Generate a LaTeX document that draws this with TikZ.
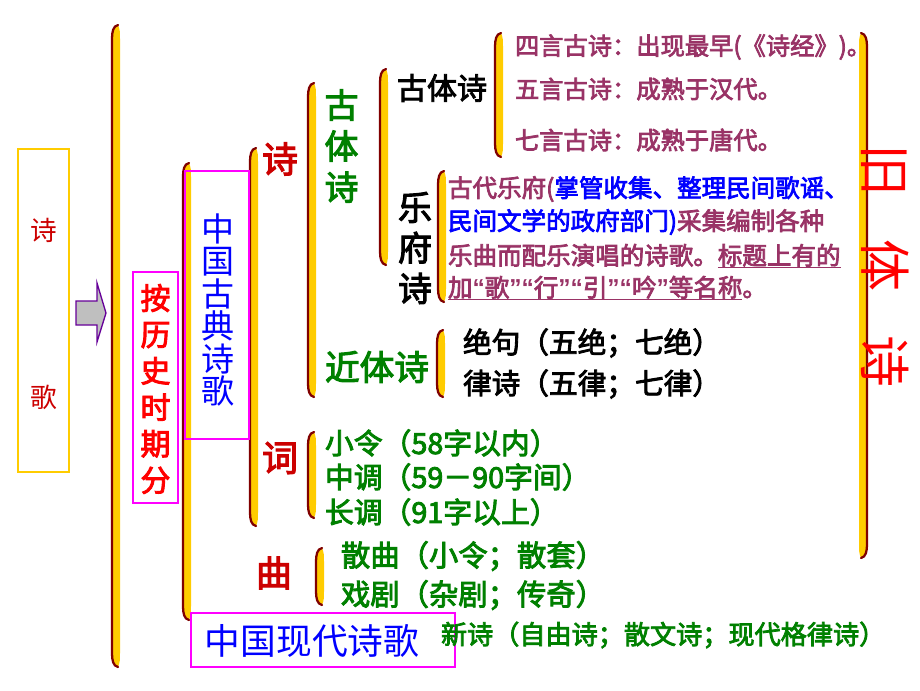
\documentclass[tikz,border=0pt]{standalone}
\usepackage{fontspec}
\setmainfont{Noto Sans CJK SC}
\newfontfamily\cjkb{Noto Sans CJK SC}[FakeBold=3]
\newfontfamily\lat{Liberation Sans}
\definecolor{brred}{HTML}{800000}
\definecolor{brgold}{HTML}{FFCC00}
\definecolor{pur}{HTML}{993366}
\definecolor{grn}{HTML}{008000}
\definecolor{blu}{HTML}{0000FF}
\definecolor{dred}{HTML}{CC0000}
\definecolor{mag}{HTML}{FF00FF}
\definecolor{arrgray}{HTML}{BFBFBF}
\definecolor{arrpur}{HTML}{660099}
\newcommand\oq{{\lat\bfseries “}}
\newcommand\cq{{\lat\bfseries ”}}
\newsavebox\ulbox
\newcommand\uln[1]{\sbox\ulbox{#1}\rlap{\rule[-2.6pt]{\wd\ulbox}{1.1pt}}\usebox\ulbox}
% left bracket: x (left edge), top, bottom
\newcommand\lbrk[3]{%
 \fill[brgold] ({#1+6},#2) .. controls ({#1+1},{#2+1}) and (#1,{#2+7}) .. (#1,{#2+14})
   -- (#1,{#3-14}) .. controls (#1,{#3-7}) and ({#1+1},{#3-1}) .. ({#1+6},#3)
   .. controls ({#1+8},{#3-4}) and ({#1+8},{#3-8}) .. ({#1+8},{#3-14})
   -- ({#1+8},{#2+14}) .. controls ({#1+8},{#2+8}) and ({#1+8},{#2+4}) .. ({#1+6},#2) -- cycle;
 \draw[brred, line width=1.7pt, line cap=round] ({#1+6},#2) .. controls ({#1+1},{#2+1}) and (#1,{#2+7}) .. (#1,{#2+14})
   -- (#1,{#3-14}) .. controls (#1,{#3-7}) and ({#1+1},{#3-1}) .. ({#1+6},#3);}
% right bracket: x (right edge), top, bottom
\newcommand\rbrk[3]{%
 \fill[brgold] ({#1-6},#2) .. controls ({#1-1},{#2+1}) and (#1,{#2+7}) .. (#1,{#2+14})
   -- (#1,{#3-14}) .. controls (#1,{#3-7}) and ({#1-1},{#3-1}) .. ({#1-6},#3)
   .. controls ({#1-8},{#3-4}) and ({#1-8},{#3-8}) .. ({#1-8},{#3-14})
   -- ({#1-8},{#2+14}) .. controls ({#1-8},{#2+8}) and ({#1-8},{#2+4}) .. ({#1-6},#2) -- cycle;
 \draw[brred, line width=1.7pt, line cap=round] ({#1-6},#2) .. controls ({#1-1},{#2+1}) and (#1,{#2+7}) .. (#1,{#2+14})
   -- (#1,{#3-14}) .. controls (#1,{#3-7}) and ({#1-1},{#3-1}) .. ({#1-6},#3);}
\begin{document}
\begin{tikzpicture}[x=0.75pt,y=-0.75pt,
  txt/.style={inner sep=0pt, outer sep=0pt},
  wtxt/.style={txt, anchor=west},
  magbox/.style={draw=mag, line width=1pt},
  poemline/.style={wtxt, text=pur, font=\cjkb\fontsize{18.2}{21}\selectfont},
  descline/.style={wtxt, text=pur, font=\cjkb\fontsize{18.4}{21}\selectfont},
  blackline/.style={wtxt, text=black, font=\cjkb\fontsize{21.5}{25}\selectfont},
  ciline/.style={wtxt, text=grn, font=\cjkb\fontsize{21.6}{25}\selectfont},
  quline/.style={wtxt, text=grn, font=\cjkb\fontsize{22}{25}\selectfont},
  bigred/.style={txt, text=dred, font=\cjkb\fontsize{27}{30}\selectfont}]
\useasboundingbox (0,0) rectangle (920,690);
\fill[white] (0,0) rectangle (920,690);

% left box
\draw[brgold, line width=0.9pt] (18,149) rectangle (69,472);
\node[txt, text=dred, font=\fontsize{20}{22}\selectfont] (shi0) at (43.5,230) {诗};
\node[txt, text=dred, font=\fontsize{20}{22}\selectfont] (ge0) at (43.5,397) {歌};

% arrow
\draw[fill=arrgray, draw=arrpur, line width=1pt, line join=miter]
  (76,301) -- (97,301) -- (97,283) -- (106,313) -- (97,342) -- (97,325) -- (76,325) -- cycle;

% brackets
\lbrk{112}{25}{667}
\lbrk{183}{163}{620}
\lbrk{250}{148}{526}
\lbrk{308}{83}{397}
\lbrk{380}{69}{265}
\lbrk{495}{33}{157}
\lbrk{438}{171}{302}
\lbrk{437}{330}{397}
\lbrk{308}{432}{518}
\lbrk{316}{548}{605}
\rbrk{867}{33}{558}

% by period
\draw[magbox] (133,272) rectangle (178,503);
\node[txt, text=red, align=center, font=\cjkb\fontsize{22.5}{27.3}\selectfont] (period) at (155.5,389)
  {按\\历\\史\\时\\期\\分};

% classical poetry
\draw[magbox] (185,171) rectangle (249,439);
\node[txt, text=blu, align=center, font=\fontsize{24.75}{24.4}\selectfont] (classic) at (218,310)
  {中\\国\\古\\典\\诗\\歌};

\node[bigred] (shi) at (280,159) {诗};
\node[bigred] (ci) at (280,458) {词};
\node[bigred] (qu) at (274,573) {曲};

\node[txt, text=grn, align=center, font=\cjkb\fontsize{25.5}{30.75}\selectfont] (gutishi) at (341.5,146)
  {古\\体\\诗};
\node[wtxt, text=grn, font=\cjkb\fontsize{26}{30}\selectfont] (jintishi) at (325,367) {近体诗};

\node[wtxt, text=black, font=\cjkb\fontsize{22.5}{26}\selectfont] (gutishi2) at (397,88) {古体诗};
\node[txt, text=black, align=center, font=\cjkb\fontsize{25.5}{30.4}\selectfont] (yuefu) at (415,248)
  {乐\\府\\诗};

\node[poemline] (siyan) at (515,47) {四言古诗：出现最早(《诗经》)。};
\node[poemline] (wuyan) at (515,89) {五言古诗：成熟于汉代。};
\node[poemline] (qiyan) at (515,140) {七言古诗：成熟于唐代。};

\node[descline] (d1) at (448,189) {古代乐府(\textcolor{blu}{掌管收集、整理民间歌谣、}};
\node[descline] (d2) at (448,222) {\textcolor{blu}{民间文学的政府部门)}采集编制各种};
\node[descline] (d3) at (448,256) {乐曲而配乐演唱的诗歌。\uln{标题上有的}};
\node[descline] (d4) at (448,288) {\uln{加\oq 歌\cq\oq 行\cq\oq 引\cq\oq 吟\cq 等名称}。};

\node[blackline] (jueju) at (463,343) {绝句（五绝；七绝）};
\node[blackline] (lvshi) at (463,384) {律诗（五律；七律）};

\node[ciline] (xiaoling) at (325,443) {小令（58字以内）};
\node[ciline] (zhongdiao) at (325,477) {中调（59－90字间）};
\node[ciline] (changdiao) at (325,512) {长调（91字以上）};

\node[quline] (sanqu) at (341,556) {散曲（小令；散套）};
\node[quline] (xiju) at (341,595) {戏剧（杂剧；传奇）};

% modern poetry
\draw[magbox] (191,613) rectangle (455,667);
\node[txt, text=blu, font=\fontsize{26.8}{30}\selectfont] (modern) at (312,641) {中国现代诗歌};
\node[wtxt, text=grn, font=\cjkb\fontsize{19.6}{24}\selectfont] (xinshi) at (441,635)
  {新诗（自由诗；散文诗；现代格律诗）};

% old-style poetry label
\node[txt, text=red, rotate=-90, font=\fontsize{39}{42}\selectfont] (jiuti) at (885,266)
  {旧\hspace{33pt}体\hspace{33pt}诗};
\end{tikzpicture}
\end{document}
